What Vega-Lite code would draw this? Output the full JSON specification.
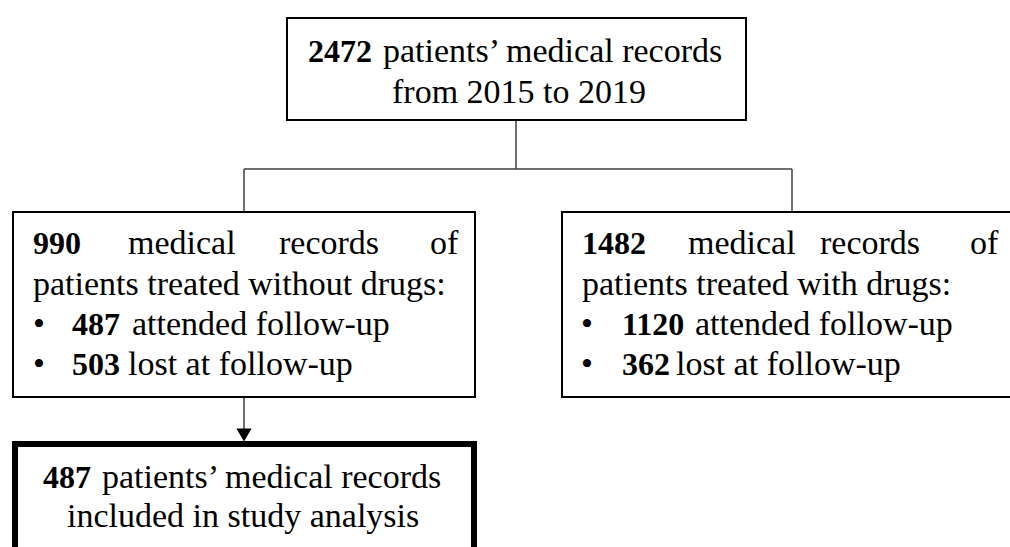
{
  "$schema": "https://vega.github.io/schema/vega-lite/v6.json",
  "width": 1010,
  "height": 547,
  "padding": 0,
  "autosize": {"type": "fit", "contains": "padding"},
  "background": "white",
  "config": {"view": {"stroke": null}},
  "datasets": {
    "boxes": [
      {"id": "total", "x1": 287, "x2": 746, "y1": 18, "y2": 120, "kind": "thin"},
      {"id": "nodrug", "x1": 13, "x2": 475, "y1": 212, "y2": 397, "kind": "thin"},
      {"id": "drug", "x1": 562, "x2": 1023, "y1": 212, "y2": 397, "kind": "thin"},
      {"id": "included", "x1": 15, "x2": 474, "y1": 444, "y2": 570, "kind": "thick"}
    ],
    "links": [
      {"x1": 516, "y1": 120, "x2": 516, "y2": 169},
      {"x1": 244, "y1": 169, "x2": 792, "y2": 169},
      {"x1": 244, "y1": 169, "x2": 244, "y2": 212},
      {"x1": 792, "y1": 169, "x2": 792, "y2": 212},
      {"x1": 244, "y1": 397, "x2": 244, "y2": 430}
    ],
    "arrows": [{"x": 244, "y": 435}],
    "texts": [
      {"x": 308, "y": 62, "t": "2472", "w": "bold"},
      {"x": 383, "y": 62, "t": "patients’ medical records", "w": "normal"},
      {"x": 392, "y": 103, "t": "from 2015 to 2019", "w": "normal"},
      {"x": 33, "y": 254, "t": "990", "w": "bold"},
      {"x": 128, "y": 254, "t": "medical", "w": "normal"},
      {"x": 279, "y": 254, "t": "records", "w": "normal"},
      {"x": 430, "y": 254, "t": "of", "w": "normal"},
      {"x": 33, "y": 295, "t": "patients treated without drugs:", "w": "normal"},
      {"x": 33, "y": 335, "t": "•", "w": "normal"},
      {"x": 72, "y": 335, "t": "487", "w": "bold"},
      {"x": 132, "y": 335, "t": "attended follow-up", "w": "normal"},
      {"x": 33, "y": 375, "t": "•", "w": "normal"},
      {"x": 72, "y": 375, "t": "503", "w": "bold"},
      {"x": 128, "y": 375, "t": "lost at follow-up", "w": "normal"},
      {"x": 582, "y": 254, "t": "1482", "w": "bold"},
      {"x": 688, "y": 254, "t": "medical", "w": "normal"},
      {"x": 820, "y": 254, "t": "records", "w": "normal"},
      {"x": 970, "y": 254, "t": "of", "w": "normal"},
      {"x": 582, "y": 295, "t": "patients treated with drugs:", "w": "normal"},
      {"x": 581, "y": 335, "t": "•", "w": "normal"},
      {"x": 622, "y": 335, "t": "1120", "w": "bold"},
      {"x": 695, "y": 335, "t": "attended follow-up", "w": "normal"},
      {"x": 581, "y": 375, "t": "•", "w": "normal"},
      {"x": 622, "y": 375, "t": "362", "w": "bold"},
      {"x": 676, "y": 375, "t": "lost at follow-up", "w": "normal"},
      {"x": 43, "y": 488, "t": "487", "w": "bold"},
      {"x": 102, "y": 488, "t": "patients’ medical records", "w": "normal"},
      {"x": 67, "y": 527, "t": "included in study analysis", "w": "normal"}
    ]
  },
  "encoding": {},
  "layer": [
    {
      "data": {"name": "links"},
      "mark": {"type": "rule", "color": "#404040", "strokeWidth": 1.5},
      "encoding": {
        "x": {"field": "x1", "type": "quantitative", "scale": {"domain": [0, 1010], "nice": false, "zero": false}, "axis": null},
        "y": {"field": "y1", "type": "quantitative", "scale": {"domain": [0, 547], "nice": false, "zero": false, "reverse": true}, "axis": null},
        "x2": {"field": "x2"},
        "y2": {"field": "y2"}
      }
    },
    {
      "data": {"name": "arrows"},
      "mark": {"type": "point", "shape": "triangle-down", "filled": true, "color": "black", "size": 230, "opacity": 1},
      "encoding": {
        "x": {"field": "x", "type": "quantitative", "axis": null},
        "y": {"field": "y", "type": "quantitative", "axis": null}
      }
    },
    {
      "data": {"name": "boxes"},
      "transform": [{"filter": "datum.kind === 'thin'"}],
      "mark": {"type": "rect", "fill": "white", "stroke": "black", "strokeWidth": 2, "clip": true},
      "encoding": {
        "x": {"field": "x1", "type": "quantitative", "axis": null},
        "x2": {"field": "x2"},
        "y": {"field": "y1", "type": "quantitative", "axis": null},
        "y2": {"field": "y2"}
      }
    },
    {
      "data": {"name": "boxes"},
      "transform": [{"filter": "datum.kind === 'thick'"}],
      "mark": {"type": "rect", "fill": "white", "stroke": "black", "strokeWidth": 6, "clip": true},
      "encoding": {
        "x": {"field": "x1", "type": "quantitative", "axis": null},
        "x2": {"field": "x2"},
        "y": {"field": "y1", "type": "quantitative", "axis": null},
        "y2": {"field": "y2"}
      }
    },
    {
      "data": {"name": "texts"},
      "transform": [{"filter": "datum.w === 'normal'"}],
      "mark": {"type": "text", "align": "left", "baseline": "alphabetic", "font": "Liberation Serif", "fontSize": 34, "color": "black"},
      "encoding": {
        "x": {"field": "x", "type": "quantitative", "axis": null},
        "y": {"field": "y", "type": "quantitative", "axis": null},
        "text": {"field": "t"}
      }
    },
    {
      "data": {"name": "texts"},
      "transform": [{"filter": "datum.w === 'bold'"}],
      "mark": {"type": "text", "align": "left", "baseline": "alphabetic", "font": "Liberation Serif", "fontSize": 32, "fontWeight": "bold", "color": "black"},
      "encoding": {
        "x": {"field": "x", "type": "quantitative", "axis": null},
        "y": {"field": "y", "type": "quantitative", "axis": null},
        "text": {"field": "t"}
      }
    }
  ]
}
